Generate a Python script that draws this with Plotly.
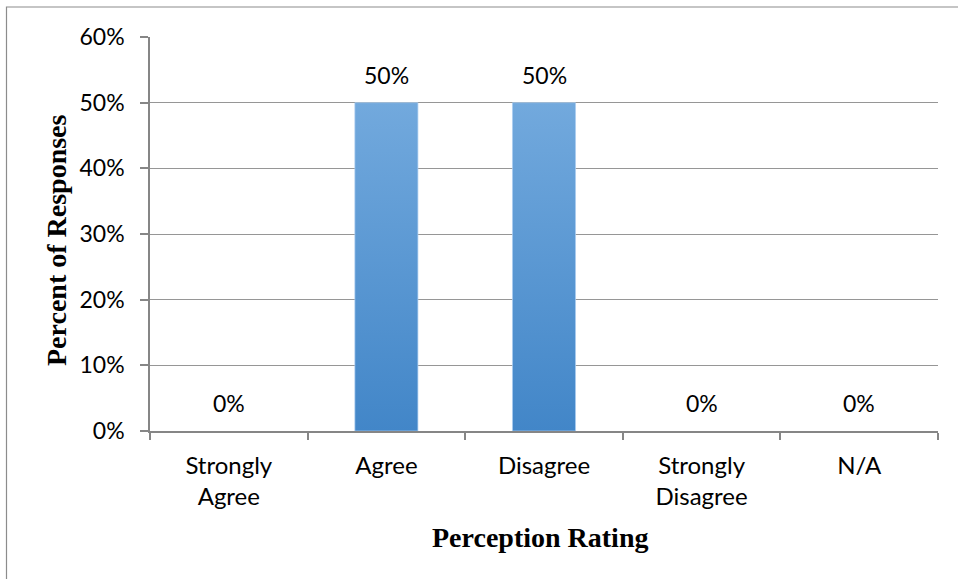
import plotly.graph_objects as go

categories = ["Strongly<br>Agree", "Agree", "Disagree", "Strongly<br>Disagree", "N/A"]
values = [0.0, 0.5, 0.5, 0.0, 0.0]
labels = ["0%", "50%", "50%", "0%", "0%"]
y_ticks = [0, 0.1, 0.2, 0.3, 0.4, 0.5, 0.6]

BAR_HALF = 0.2
fig = go.Figure()
for i, v in enumerate(values):
    if v <= 0:
        continue
    xs = [i - BAR_HALF, i + BAR_HALF, i + BAR_HALF, i - BAR_HALF, i - BAR_HALF]
    ys = [0, 0, v, v, 0]
    fig.add_trace(go.Scatter(
        x=xs, y=ys, mode="lines", fill="toself",
        line=dict(width=0.8, color="rgba(170,205,240,0.9)"),
        fillgradient=dict(type="vertical",
                          colorscale=[[0, "#4286c8"], [1, "#72a9dd"]]),
        hoverinfo="skip", showlegend=False,
    ))

for i, (v, t) in enumerate(zip(values, labels)):
    fig.add_annotation(x=i, y=v, text=t, showarrow=False, xref="x", yref="y",
                       yanchor="middle", yshift=28,
                       font=dict(family="Lato", size=23, color="#000000"))

fig.add_annotation(text="<b>Perception Rating</b>", xref="paper", yref="paper",
                   x=(540 - 150) / 788, y=(431 - 537) / 394, showarrow=False,
                   xanchor="center", yanchor="middle",
                   font=dict(family="Liberation Serif", size=28, color="#000000"))
fig.add_annotation(text="<b>Percent of Responses</b>", xref="paper", yref="paper",
                   x=(57 - 150) / 788, y=(431 - 240) / 394, showarrow=False,
                   textangle=-90, xanchor="center", yanchor="middle",
                   font=dict(family="Liberation Serif", size=28, color="#000000"))

# outer chart border (top and left visible)
fig.add_shape(type="rect", xref="paper", yref="paper",
              x0=(6.5 - 150) / 788, x1=1.5, y0=-1.0, y1=(431 - 7) / 394,
              line=dict(color="#8c8c8c", width=1.2), layer="below")

fig.update_xaxes(
    range=[-0.5, 4.5], tickvals=list(range(len(categories))), ticktext=categories,
    ticks="", showgrid=False, zeroline=False,
    showline=True, linecolor="#868686", linewidth=2,
    tickfont=dict(family="Lato", size=24, color="#000000"),
    ticklabelstandoff=12,
    minor=dict(tickvals=[i - 0.5 for i in range(len(categories) + 1)],
               ticks="outside", ticklen=7, tickcolor="#868686", tickwidth=1.5,
               showgrid=False),
    fixedrange=True,
)
fig.update_yaxes(
    range=[0, 0.6], tickvals=y_ticks, tickformat=".0%",
    showgrid=True, gridcolor="#969696", gridwidth=1,
    zeroline=False, showline=True, linecolor="#868686", linewidth=1.5,
    ticks="outside", ticklen=8, tickcolor="#868686", tickwidth=1.5,
    tickfont=dict(family="Lato", size=23, color="#000000"),
    ticklabelstandoff=11,
    fixedrange=True,
)
fig.update_layout(
    width=958, height=579,
    margin=dict(l=150, r=20, t=37, b=148),
    plot_bgcolor="#ffffff", paper_bgcolor="#ffffff",
    showlegend=False,
)
fig.write_html("out.html")
